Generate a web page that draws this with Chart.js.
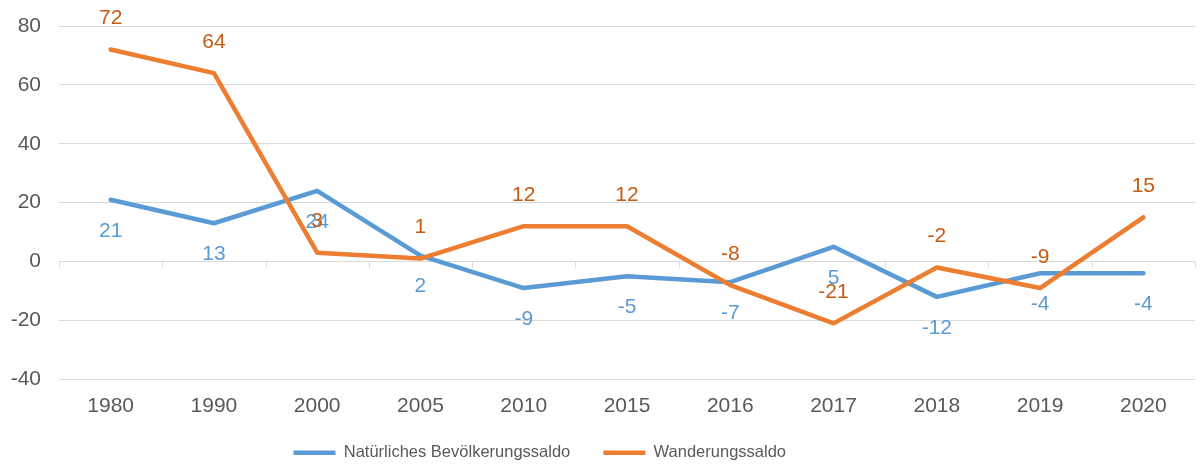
<!DOCTYPE html>
<html>
<head>
<meta charset="utf-8">
<script src="https://cdn.jsdelivr.net/npm/chart.js@4"></script>
<style>
  html, body { margin: 0; padding: 0; background: #fff; }
  #wrap { width: 1198px; height: 464px; }
</style>
</head>
<body>
<div id="wrap"><canvas id="chart" width="1198" height="464"></canvas></div>
<script>
const years = ['1980', '1990', '2000', '2005', '2010', '2015', '2016', '2017', '2018', '2019', '2020'];
const natuerlich = [21, 13, 24, 2, -9, -5, -7, 5, -12, -4, -4];
const wanderung = [72, 64, 3, 1, 12, 12, -8, -21, -2, -9, 15];
const yTicks = [-40, -20, 0, 20, 40, 60, 80];

const FONT = "'Liberation Sans', Arial, sans-serif";

function createDataset(label, color, labelColor, data, labelOffset, order) {
  return {
    label: label,
    data: data,
    borderColor: color,
    backgroundColor: color,
    borderWidth: 4.5,
    borderCapStyle: 'round',
    borderJoinStyle: 'round',
    pointRadius: 0,
    pointHoverRadius: 0,
    tension: 0,
    order: order,
    labelColor: labelColor,
    labelOffset: labelOffset
  };
}

// value labels next to each point
const valueLabels = {
  id: 'valueLabels',
  afterDatasetsDraw(chart) {
    const ctx = chart.ctx;
    ctx.save();
    ctx.font = '21px ' + FONT;
    ctx.textAlign = 'center';
    ctx.textBaseline = 'middle';
    chart.data.datasets.forEach((ds, i) => {
      const meta = chart.getDatasetMeta(i);
      meta.data.forEach((pt, j) => {
        ctx.fillStyle = ds.labelColor;
        ctx.fillText(String(ds.data[j]), pt.x, pt.y + ds.labelOffset);
      });
    });
    ctx.restore();
  }
};

// small tick marks hanging from the zero line between categories
const zeroTicks = {
  id: 'zeroTicks',
  beforeDatasetsDraw(chart) {
    const x = chart.scales.x;
    const y0 = chart.scales.y.getPixelForValue(0);
    const ctx = chart.ctx;
    ctx.save();
    ctx.strokeStyle = '#d9d9d9';
    ctx.lineWidth = 1;
    ctx.beginPath();
    for (let i = 0; i <= years.length; i++) {
      let px;
      if (i === 0) px = chart.chartArea.left;
      else if (i === years.length) px = chart.chartArea.right;
      else px = (x.getPixelForValue(i - 1) + x.getPixelForValue(i)) / 2;
      px = Math.round(px) + 0.5;
      ctx.moveTo(px, y0);
      ctx.lineTo(px, y0 + 6);
    }
    ctx.stroke();
    ctx.restore();
  }
};

const datasets = [
  createDataset('Natürliches Bevölkerungssaldo', '#5b9bd5', '#5b9bd5', natuerlich, 31, 1),
  createDataset('Wanderungssaldo', '#ed7d31', '#c55a11', wanderung, -31, 0)
];

const ctx = document.getElementById('chart').getContext('2d');
new Chart(ctx, {
  type: 'line',
  data: { labels: years, datasets: datasets },
  plugins: [zeroTicks, valueLabels],
  options: {
    responsive: false,
    animation: { duration: 0 },
    layout: { padding: { top: 0, right: 3, left: 0, bottom: -7 } },
    scales: {
      x: {
        offset: true,
        grid: { display: false, drawTicks: false },
        border: { display: false },
        ticks: { color: '#595959', font: { family: FONT, size: 21 }, padding: 14 },
        afterFit: (axis) => { axis.paddingLeft = 0; axis.paddingRight = 0; }
      },
      y: {
        min: -40,
        max: 80,
        afterBuildTicks: (axis) => { axis.ticks = yTicks.map(v => ({ value: v })); },
        afterFit: (axis) => { axis.width = 59; axis.paddingTop = 26; axis.paddingBottom = 0; },
        grid: { color: '#d9d9d9', drawTicks: false, lineWidth: 1 },
        border: { display: false },
        ticks: { color: '#595959', font: { family: FONT, size: 21 }, padding: 18 }
      }
    },
    plugins: {
      tooltip: { enabled: false },
      legend: {
        position: 'bottom',
        labels: {
          usePointStyle: true,
          pointStyle: 'line',
          pointStyleWidth: 42,
          boxHeight: 14,
          padding: 12,
          color: '#595959',
          font: { family: FONT, size: 16.5 },
          sort: (a, b) => a.datasetIndex - b.datasetIndex,
          generateLabels: (chart) => {
            const items = Chart.defaults.plugins.legend.labels.generateLabels(chart);
            // trailing blanks: item spacing and the legend sitting left of centre
            items.forEach((it) => {
              if (it.datasetIndex === 0) it.text = it.text + '\u2002\u2002 ';
              else it.text = it.text + '\u2003\u2003\u2003\u2003\u2003\u2003\u2003';
            });
            return items;
          }
        }
      }
    }
  }
});
</script>
</body>
</html>
